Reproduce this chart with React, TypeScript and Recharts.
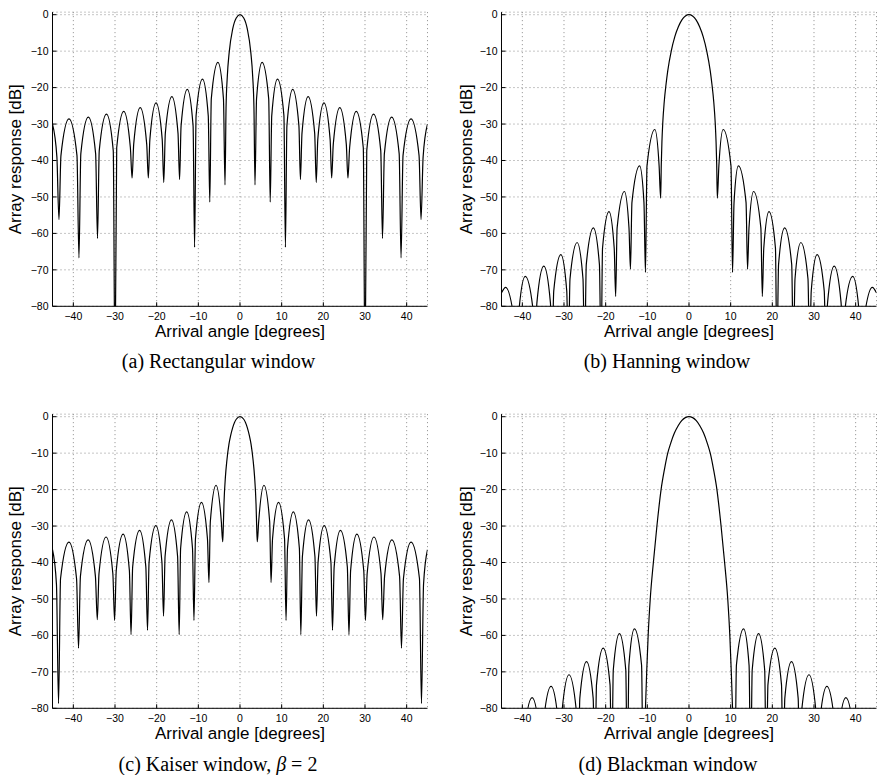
import React from "react";
import { LineChart, Line, XAxis, YAxis, CartesianGrid, Label } from "recharts";

const SANS = "'Liberation Sans', Arial, Helvetica, sans-serif";
const SERIF = "'Liberation Serif', 'Times New Roman', serif";

const angleTicks = [-40, -30, -20, -10, 0, 10, 20, 30, 40];
const dbTicks = [-80, -70, -60, -50, -40, -30, -20, -10, 0];
const angleRange: [number, number] = [-45, 45];
const dbRange: [number, number] = [-80, 0.7];

// [arrival angle (deg), array response (dB)]:
// nulls, lobe peaks and a shoulder on each flank of every lobe
const rectangular: [number, number][] = [
  [-45, -30.0], [-43.95, -39.0], [-43.45, -56.2],
  [-42.97, -38.6], [-41.05, -28.6], [-39.13, -38.6], [-38.65, -66.7],
  [-38.2, -38.1], [-36.4, -28.1], [-34.65, -38.1], [-34.2, -61.4],
  [-33.78, -37.3], [-32.05, -27.3], [-30.42, -37.3], [-30.0, -100],
  [-29.59, -36.5], [-27.9, -26.5], [-26.31, -36.5], [-25.9, -44.8],
  [-25.51, -35.5], [-23.95, -25.5], [-22.39, -35.5], [-22.0, -44.8],
  [-21.63, -34.2], [-20.15, -24.2], [-18.67, -34.2], [-18.3, -46.0],
  [-17.92, -32.5], [-16.35, -22.5], [-14.88, -32.5], [-14.5, -45.2],
  [-14.14, -30.5], [-12.65, -20.5], [-11.26, -30.5], [-10.9, -63.8],
  [-10.54, -27.7], [-9.0, -17.7], [-7.62, -27.7], [-7.25, -51.4],
  [-6.89, -23.1], [-5.3, -13.1], [-3.97, -23.1], [-3.6, -46.7],
  [-3.35, -25.6], [-3.05, -17.0], [-2.6, -10.4], [-1.75, -3.9], [-0.9, -0.9], [0, 0],
  [0.9, -0.9], [1.75, -3.9], [2.6, -10.4], [3.05, -17.0], [3.35, -25.6],
  [3.6, -46.7], [3.97, -23.1], [5.3, -13.1], [6.89, -23.1],
  [7.25, -51.4], [7.62, -27.7], [9.0, -17.7], [10.54, -27.7],
  [10.9, -63.8], [11.26, -30.5], [12.65, -20.5], [14.14, -30.5],
  [14.5, -45.2], [14.88, -32.5], [16.35, -22.5], [17.92, -32.5],
  [18.3, -46.0], [18.67, -34.2], [20.15, -24.2], [21.63, -34.2],
  [22.0, -44.8], [22.39, -35.5], [23.95, -25.5], [25.51, -35.5],
  [25.9, -44.8], [26.31, -36.5], [27.9, -26.5], [29.59, -36.5],
  [30.0, -100], [30.42, -37.3], [32.05, -27.3], [33.78, -37.3],
  [34.2, -61.4], [34.65, -38.1], [36.4, -28.1], [38.2, -38.1],
  [38.65, -66.7], [39.13, -38.6], [41.05, -28.6], [42.97, -38.6],
  [43.45, -56.2], [43.95, -39.0], [45, -30.0],
];

const hanning: [number, number][] = [
  [-45, -76.3], [-44.0, -74.8], [-41.84, -84.8], [-41.3, -90],
  [-40.86, -81.8], [-39.3, -71.8], [-37.34, -81.8], [-36.9, -90],
  [-36.5, -79.0], [-34.85, -69.0], [-33.26, -79.0], [-32.85, -92],
  [-32.46, -75.8], [-30.75, -65.8], [-29.34, -75.8], [-28.95, -95],
  [-28.56, -72.5], [-26.85, -62.5], [-25.44, -72.5], [-25.05, -95],
  [-24.65, -68.5], [-22.95, -58.5], [-21.5, -68.5], [-21.1, -95],
  [-20.75, -64.0], [-19.2, -54.0], [-17.95, -64.0], [-17.6, -77.3],
  [-17.25, -58.5], [-15.5, -48.5], [-14.4, -58.5], [-14.05, -69.8],
  [-13.69, -51.5], [-11.85, -41.5], [-10.81, -51.5], [-10.45, -70.7],
  [-10.08, -41.5], [-8.2, -31.5], [-7.17, -41.5], [-6.8, -50.3],
  [-6.65, -41], [-6.5, -35], [-6.3, -29.8], [-5.95, -24], [-5.5, -19], [-5.1, -15.4],
  [-4.25, -9.9], [-3.4, -6.0], [-2.55, -3.3], [-1.7, -1.4], [-0.85, -0.35], [0, 0],
  [0.85, -0.35], [1.7, -1.4], [2.55, -3.3], [3.4, -6.0], [4.25, -9.9],
  [5.1, -15.4], [5.5, -19], [5.95, -24], [6.3, -29.8], [6.5, -35], [6.65, -41],
  [6.8, -50.3], [7.17, -41.5], [8.2, -31.5], [10.08, -41.5],
  [10.45, -70.7], [10.81, -51.5], [11.85, -41.5], [13.69, -51.5],
  [14.05, -69.8], [14.4, -58.5], [15.5, -48.5], [17.25, -58.5],
  [17.6, -77.3], [17.95, -64.0], [19.2, -54.0], [20.75, -64.0],
  [21.1, -95], [21.5, -68.5], [22.95, -58.5], [24.65, -68.5],
  [25.05, -95], [25.44, -72.5], [26.85, -62.5], [28.56, -72.5],
  [28.95, -95], [29.34, -75.8], [30.75, -65.8], [32.46, -75.8],
  [32.85, -92], [33.26, -79.0], [34.85, -69.0], [36.5, -79.0],
  [36.9, -90], [37.34, -81.8], [39.3, -71.8], [40.86, -81.8],
  [41.3, -90], [41.84, -84.8], [44.0, -74.8], [45, -76.3],
];

const kaiser: [number, number][] = [
  [-45, -36.5], [-44.05, -46.0], [-43.55, -78.7],
  [-43.07, -44.4], [-41.05, -34.4], [-39.23, -44.4], [-38.75, -63.5],
  [-38.3, -43.8], [-36.45, -33.8], [-34.7, -43.8], [-34.25, -55.7],
  [-33.84, -43.0], [-32.15, -33.0], [-30.52, -43.0], [-30.1, -55.9],
  [-29.7, -42.2], [-28.05, -32.2], [-26.55, -42.2], [-26.15, -59.8],
  [-25.76, -41.2], [-24.1, -31.2], [-22.6, -41.2], [-22.2, -58.6],
  [-21.82, -39.9], [-20.2, -29.9], [-18.74, -39.9], [-18.35, -54.7],
  [-17.98, -38.3], [-16.45, -28.3], [-14.98, -38.3], [-14.6, -59.8],
  [-14.25, -36.1], [-12.8, -26.1], [-11.4, -36.1], [-11.05, -55.9],
  [-10.69, -33.5], [-9.25, -23.5], [-7.81, -33.5], [-7.45, -45.5],
  [-7.12, -28.8], [-5.75, -18.8], [-4.48, -28.8], [-4.15, -34.3],
  [-4.0, -30], [-3.85, -24], [-3.5, -16.5], [-3.15, -12], [-2.65, -7.5],
  [-2.25, -5.2], [-1.75, -3.0], [-0.9, -0.7], [0, 0],
  [0.9, -0.7], [1.75, -3.0], [2.25, -5.2], [2.65, -7.5], [3.15, -12],
  [3.5, -16.5], [3.85, -24], [4.0, -30],
  [4.15, -34.3], [4.48, -28.8], [5.75, -18.8], [7.12, -28.8],
  [7.45, -45.5], [7.81, -33.5], [9.25, -23.5], [10.69, -33.5],
  [11.05, -55.9], [11.4, -36.1], [12.8, -26.1], [14.25, -36.1],
  [14.6, -59.8], [14.98, -38.3], [16.45, -28.3], [17.98, -38.3],
  [18.35, -54.7], [18.74, -39.9], [20.2, -29.9], [21.82, -39.9],
  [22.2, -58.6], [22.6, -41.2], [24.1, -31.2], [25.76, -41.2],
  [26.15, -59.8], [26.55, -42.2], [28.05, -32.2], [29.7, -42.2],
  [30.1, -55.9], [30.52, -43.0], [32.15, -33.0], [33.84, -43.0],
  [34.25, -55.7], [34.7, -43.8], [36.45, -33.8], [38.3, -43.8],
  [38.75, -63.5], [39.23, -44.4], [41.05, -34.4], [43.07, -44.4],
  [43.55, -78.7], [44.05, -46.0], [45, -36.5],
];

const blackman: [number, number][] = [
  [-45, -100], [-40.0, -100],
  [-39.54, -87.1], [-37.65, -77.1], [-35.86, -87.1], [-35.4, -100],
  [-34.95, -84.0], [-33.1, -74.0], [-31.35, -84.0], [-30.9, -100],
  [-30.47, -80.8], [-28.8, -70.8], [-27.03, -80.8], [-26.6, -100],
  [-26.2, -77.2], [-24.6, -67.2], [-23.0, -77.2], [-22.6, -100],
  [-22.2, -73.5], [-20.6, -63.5], [-18.95, -73.5], [-18.55, -100],
  [-18.17, -69.5], [-16.7, -59.5], [-15.17, -69.5], [-14.8, -100],
  [-14.42, -68.2], [-13.1, -58.2], [-11.38, -68.2], [-11.0, -100],
  [-10.45, -80], [-10.15, -70], [-9.8, -60], [-9.3, -50], [-8.55, -40], [-7.7, -30],
  [-6.7, -20], [-5.9, -14.5], [-5.1, -10], [-4.4, -7.3], [-3.5, -4.5], [-2.6, -2.5],
  [-1.75, -1.1], [0, 0],
  [1.75, -1.1], [2.6, -2.5], [3.5, -4.5], [4.4, -7.3], [5.1, -10], [5.9, -14.5],
  [6.7, -20], [7.7, -30], [8.55, -40], [9.3, -50], [9.8, -60], [10.15, -70], [10.45, -80],
  [11.0, -100], [11.38, -68.2], [13.1, -58.2], [14.42, -68.2],
  [14.8, -100], [15.17, -69.5], [16.7, -59.5], [18.17, -69.5],
  [18.55, -100], [18.95, -73.5], [20.6, -63.5], [22.2, -73.5],
  [22.6, -100], [23.0, -77.2], [24.6, -67.2], [26.2, -77.2],
  [26.6, -100], [27.03, -80.8], [28.8, -70.8], [30.47, -80.8],
  [30.9, -100], [31.35, -84.0], [33.1, -74.0], [34.95, -84.0],
  [35.4, -100], [35.86, -87.1], [37.65, -77.1], [39.54, -87.1],
  [40.0, -100], [45, -100],
];

const PLOT_W = 375;
const PLOT_H = 294.15;
const TOP = 12.15;
const X_AXIS_H = 40;

const fmt = (v: number) => (v < 0 ? `\u2212${-v}` : `${v}`);
const tickStyle = { fontSize: 10.5, fill: "#000", fontFamily: SANS };

const XTitle = (props: any) => {
  const vb = props.viewBox || {};
  return (
    <text x={vb.x + vb.width / 2} y={vb.y + 30.5} textAnchor="middle" fontSize={17} fontFamily={SANS} fill="#000">
      Arrival angle [degrees]
    </text>
  );
};

function makeYTitle(gap: number) {
  return (props: any) => {
    const vb = props.viewBox || {};
    const bx = vb.x + vb.width - gap;
    const cy = vb.y + vb.height / 2;
    return (
      <text x={bx} y={cy} transform={`rotate(-90 ${bx} ${cy})`} textAnchor="middle" fontSize={17} fontFamily={SANS} fill="#000">
        Array response [dB]
      </text>
    );
  };
}

interface PanelProps {
  points: [number, number][];
  left: number;
  top: number;
  width: number;
  axisWidth: number;
  titleGap: number;
}

function Panel({ points, left, top, width, axisWidth, titleGap }: PanelProps) {
  const data = React.useMemo(() => points.map(([angle, db]) => ({ angle, db })), [points]);
  const YTitle = React.useMemo(() => makeYTitle(titleGap), [titleGap]);
  return (
    <div style={{ position: "absolute", left, top }}>
      <LineChart
        width={width}
        height={TOP + PLOT_H + X_AXIS_H}
        data={data}
        margin={{ top: TOP, right: width - axisWidth - PLOT_W, bottom: 0, left: 0 }}
      >
        <CartesianGrid stroke="#8c8c8c" strokeDasharray="1 3" />
        <XAxis
          dataKey="angle"
          type="number"
          domain={angleRange}
          ticks={angleTicks}
          interval={0}
          allowDataOverflow
          height={X_AXIS_H}
          tickSize={-4}
          tickMargin={10}
          tickFormatter={fmt}
          axisLine={{ stroke: "#000" }}
          tickLine={{ stroke: "#000" }}
          tick={tickStyle}
        >
          <Label content={XTitle} />
        </XAxis>
        <XAxis
          xAxisId="top"
          orientation="top"
          type="number"
          domain={angleRange}
          ticks={angleTicks}
          interval={0}
          allowDataOverflow
          height={0}
          tickSize={-4}
          tick={false}
          axisLine={{ stroke: "#000" }}
          tickLine={{ stroke: "#000" }}
        />
        <YAxis
          type="number"
          domain={dbRange}
          ticks={dbTicks}
          interval={0}
          allowDataOverflow
          width={axisWidth}
          tickSize={-4}
          tickMargin={8}
          tickFormatter={fmt}
          axisLine={{ stroke: "#000" }}
          tickLine={{ stroke: "#000" }}
          tick={tickStyle}
        >
          <Label content={YTitle} />
        </YAxis>
        <YAxis
          yAxisId="right"
          orientation="right"
          type="number"
          domain={dbRange}
          ticks={dbTicks}
          interval={0}
          allowDataOverflow
          width={0}
          tickSize={-4}
          tick={false}
          axisLine={{ stroke: "#000" }}
          tickLine={{ stroke: "#000" }}
        />
        <Line
          type="monotone"
          dataKey="db"
          stroke="#000"
          strokeWidth={1.2}
          dot={false}
          activeDot={false}
          isAnimationActive={false}
        />
      </LineChart>
    </div>
  );
}

export default function App() {
  return (
    <div style={{ position: "absolute", left: 0, top: 0, width: 877, height: 775, overflow: "hidden", background: "#fff" }}>
      <Panel points={rectangular} left={0} top={0} width={440} axisWidth={52.5} titleGap={31.4} />
      <Panel points={hanning} left={449.3} top={0} width={427.7} axisWidth={52.5} titleGap={29.1} />
      <Panel points={kaiser} left={0} top={402} width={440} axisWidth={52.5} titleGap={31.4} />
      <Panel points={blackman} left={449.3} top={402} width={427.7} axisWidth={52.5} titleGap={29.1} />
      <svg width={877} height={775} style={{ position: "absolute", left: 0, top: 0, pointerEvents: "none" }}>
        <g fontFamily={SERIF} fontSize={20} fill="#000" textAnchor="middle">
          <text x={218.5} y={368.3}>(a) Rectangular window</text>
          <text x={667} y={368.3}>(b) Hanning window</text>
          <text x={218} y={770.7}>
            (c) Kaiser window, <tspan fontStyle="italic">β</tspan> = 2
          </text>
          <text x={668} y={770.7}>(d) Blackman window</text>
        </g>
      </svg>
    </div>
  );
}
